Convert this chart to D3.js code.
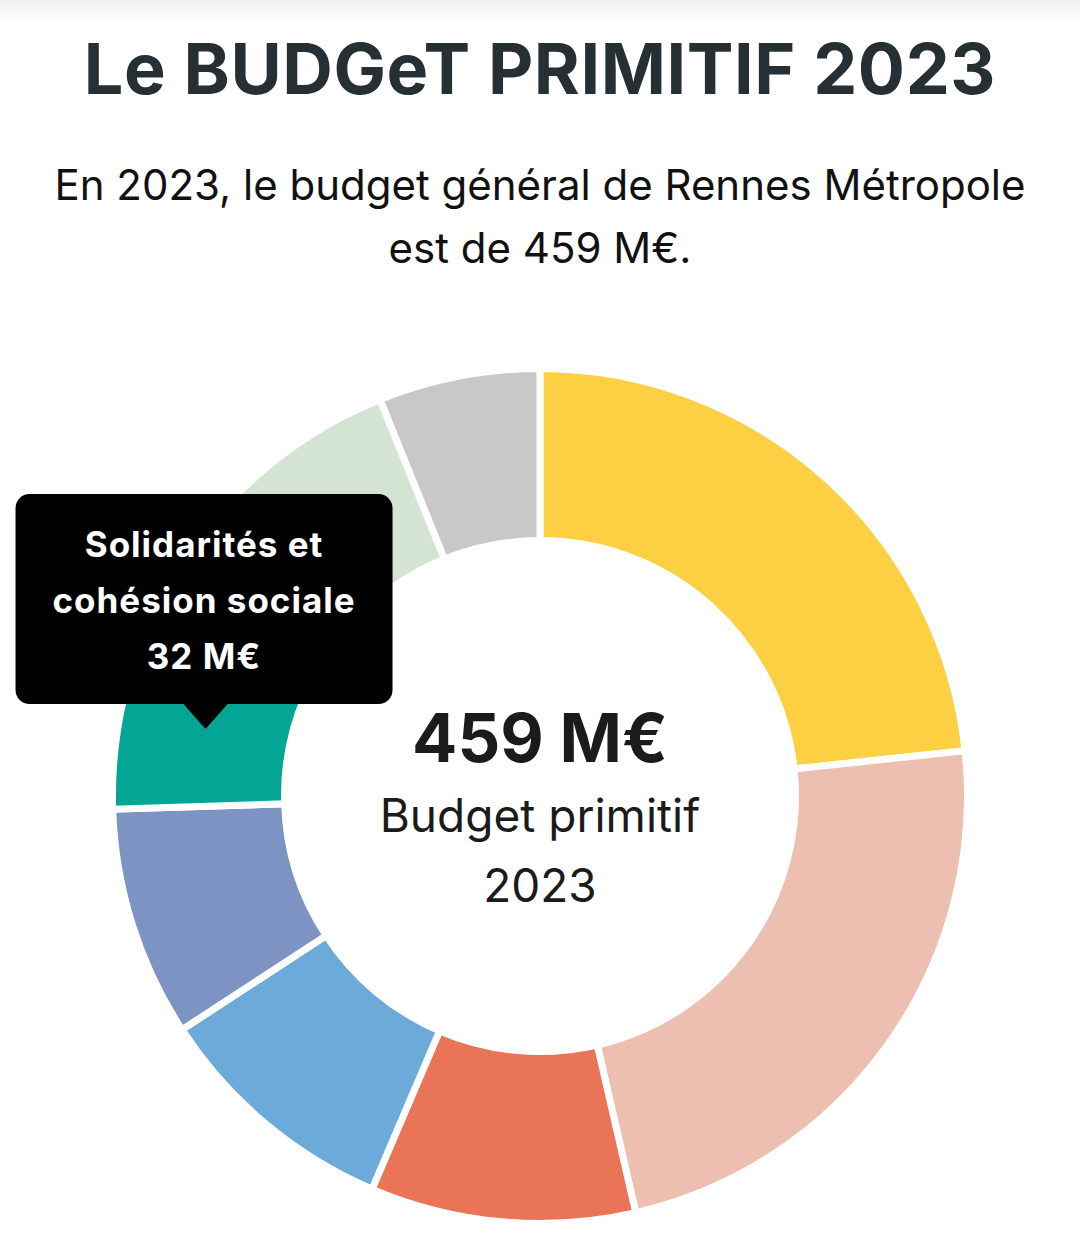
<!DOCTYPE html>
<html lang="fr">
<head>
<meta charset="utf-8">
<script src="https://cdn.jsdelivr.net/npm/d3@7/dist/d3.min.js"></script>
<style>
  html, body { margin: 0; padding: 0; background: #ffffff; }
  svg { display: block; }
</style>
</head>
<body>
<svg id="chart" width="1080" height="1248"></svg>
<script>
// ---- Data ----
const categories = [
  "Mobilités et transports",
  "Ressources et moyens généraux",
  "Environnement et transition écologique",
  "Aménagement et habitat",
  "Développement économique",
  "Solidarités et cohésion sociale",
  "Culture, sport et loisirs",
  "Autres politiques"
];
const values = [107, 106, 46, 43, 40, 32, 57, 28]; // M€
const colors = ["#FDD043", "#ECBFB1", "#E97457", "#6BAAD9", "#7D93C3", "#03A594", "#D3E4D2", "#C8C8C8"];
const titleText = "Le BUDGeT PRIMITIF 2023";
const subtitleLines = ["En 2023, le budget général de Rennes Métropole", "est de 459 M€."];
const centerSubLines = ["Budget primitif", "2023"];
const tooltipCategory = "Solidarités et cohésion sociale";
const tooltipLines = ["Solidarités et", "cohésion sociale"];

const data = categories.map((c, i) => ({ category: c, value: values[i], color: colors[i] }));
const total = d3.sum(values);

const svg = d3.select("#chart");
const W = 1080;
const cx = 540, cy = 796, outerR = 427.5, innerR = 255.5;
const FONT = "Inter, 'Open Sans', sans-serif";

// top shadow band
const defs = svg.append("defs");
const grad = defs.append("linearGradient").attr("id", "topShade").attr("x1", 0).attr("y1", 0).attr("x2", 0).attr("y2", 1);
grad.append("stop").attr("offset", "0%").attr("stop-color", "#f0f0f0");
grad.append("stop").attr("offset", "100%").attr("stop-color", "#ffffff");
svg.append("rect").attr("x", 0).attr("y", 0).attr("width", W).attr("height", 22).attr("fill", "url(#topShade)");

// title
svg.append("text")
  .attr("x", W / 2).attr("y", 94)
  .attr("text-anchor", "middle")
  .attr("font-family", FONT)
  .attr("font-weight", 700)
  .attr("font-size", 70)
  .attr("letter-spacing", 0.6)
  .attr("fill", "#263034")
  .text(titleText);

// subtitle
svg.append("g").selectAll("text").data(subtitleLines).join("text")
  .attr("x", W / 2).attr("y", (d, i) => 200 + i * 63)
  .attr("text-anchor", "middle")
  .attr("font-family", FONT)
  .attr("font-weight", 400)
  .attr("font-size", 42)
  .attr("fill", "#111111")
  .text(d => d);

// donut
const pie = d3.pie().value(d => d.value).sort(null);
const arc = d3.arc().innerRadius(innerR).outerRadius(outerR);
const arcs = pie(data);

const g = svg.append("g").attr("transform", `translate(${cx},${cy})`);
g.selectAll("path").data(arcs).join("path")
  .attr("d", arc)
  .attr("fill", d => d.data.color)
  .attr("stroke", "#ffffff")
  .attr("stroke-width", 7)
  .attr("stroke-linejoin", "miter");

// center labels
g.append("text")
  .attr("x", 0).attr("y", -34)
  .attr("text-anchor", "middle")
  .attr("font-family", FONT)
  .attr("font-weight", 700)
  .attr("font-size", 67)
  .attr("fill", "#1b1b1b")
  .text(`${total} M€`);

g.selectAll("text.sub").data(centerSubLines).join("text")
  .attr("class", "sub")
  .attr("x", 0).attr("y", (d, i) => 36 + i * 70)
  .attr("text-anchor", "middle")
  .attr("font-family", FONT)
  .attr("font-weight", 400)
  .attr("font-size", 46)
  .attr("fill", "#1b1b1b")
  .text(d => d);

// tooltip anchored on the hovered slice centroid
const hovered = arcs.find(a => a.data.category === tooltipCategory);
const [tx, ty] = arc.centroid(hovered);
const tipX = cx + tx + 1, tipY = cy + ty - 3;
const boxW = 377, boxH = 210, arrowH = 25, arrowHalf = 23;
const boxX = tipX - 190, boxY = tipY - arrowH - boxH;

const tip = svg.append("g");
tip.append("rect")
  .attr("x", boxX).attr("y", boxY)
  .attr("width", boxW).attr("height", boxH)
  .attr("rx", 14).attr("ry", 14)
  .attr("fill", "#000000");
tip.append("path")
  .attr("d", `M${tipX - arrowHalf},${tipY - arrowH - 1} L${tipX + arrowHalf},${tipY - arrowH - 1} L${tipX},${tipY} Z`)
  .attr("fill", "#000000");
const tipText = tooltipLines.concat([`${hovered.data.value} M€`]);
tip.selectAll("text").data(tipText).join("text")
  .attr("x", boxX + boxW / 2)
  .attr("y", (d, i) => boxY + 63 + i * 56)
  .attr("text-anchor", "middle")
  .attr("font-family", FONT)
  .attr("font-weight", 700)
  .attr("font-size", 35)
  .attr("letter-spacing", 1)
  .attr("fill", "#ffffff")
  .text(d => d);
</script>
</body>
</html>
